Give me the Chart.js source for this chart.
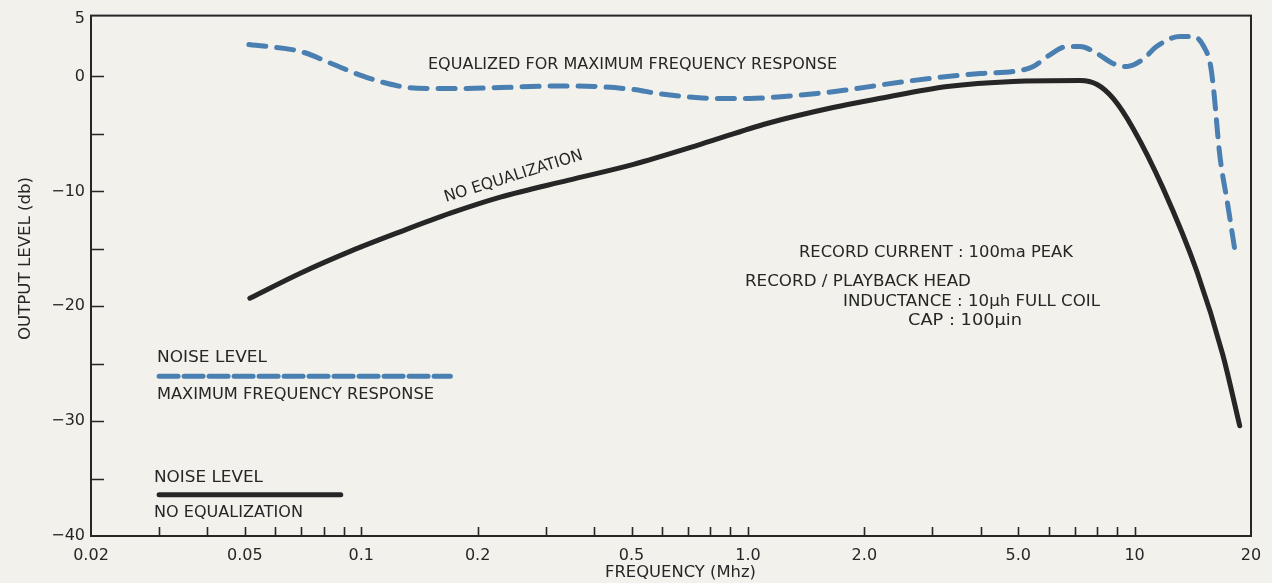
<!DOCTYPE html>
<html>
<head>
<meta charset="utf-8">
<title>Output level vs frequency</title>
<script src="https://cdn.jsdelivr.net/npm/chart.js@4.4.1/dist/chart.umd.min.js"></script>
<style>
  html, body { margin: 0; padding: 0; background: #f2f1ec; }
  #wrap { width: 1272px; height: 583px; }
</style>
</head>
<body>
<div id="wrap"><canvas id="levelChart" width="1272" height="583"></canvas></div>
<script>
// equalized for maximum frequency response (blue dashed)
const eqFreq = [0.0512, 0.0698, 0.0849, 0.1015, 0.117, 0.132, 0.154, 0.188, 0.229, 0.342, 0.506, 0.584,
  0.682, 0.834, 1.01, 1.24, 1.51, 1.84, 2.24, 2.96, 3.99, 4.85, 5.47, 6.05, 6.69, 7.23, 8.0, 8.8, 9.56,
  10.5, 11.4, 13.1, 14.2, 15.2, 15.7, 16.0, 16.6, 17.4, 18.3];
const eqLevel = [2.78, 2.17, 1.04, 0, -0.61, -0.96, -1.04, -1.04, -0.96, -0.82, -1.13, -1.48,
  -1.74, -1.91, -1.91, -1.74, -1.48, -1.13, -0.70, -0.17, 0.26, 0.43, 0.87, 1.91, 2.61, 2.61, 2.0, 1.13, 0.87,
  1.48, 2.61, 3.48, 3.48, 2.43, 1.04, -1.04, -6.78, -11.1, -15.8];

// no equalization (black)
const noEqFreq = [0.0515, 0.0698, 0.0939, 0.1265, 0.170, 0.229, 0.342, 0.506, 0.754, 1.12, 1.66, 2.20,
  3.28, 4.85, 7.23, 8.0, 8.8, 9.91, 11.85, 14.5, 16.9, 18.7];
const noEqLevel = [-19.3, -17.1, -15.2, -13.5, -11.9, -10.5, -9.04, -7.65, -5.91, -4.09, -2.7, -1.9,
  -0.87, -0.43, -0.35, -0.70, -1.91, -4.52, -9.74, -17.0, -24.2, -30.4];

// noise levels
const noiseEqFreq = [0.03, 0.17];
const noiseEqLevel = [-26.1, -26.1];
const noiseNoEqFreq = [0.03, 0.0885];
const noiseNoEqLevel = [-36.4, -36.4];

// axes
const xTickValues = [0.02, 0.05, 0.1, 0.2, 0.5, 1, 2, 5, 10, 20];
const xTickText = ['0.02', '0.05', '0.1', '0.2', '0.5', '1.0', '2.0', '5.0', '10', '20'];
const xTickMarks = [0.03, 0.04, 0.05, 0.06, 0.07, 0.08, 0.09, 0.1, 0.2, 0.3, 0.4, 0.5, 0.6, 0.7, 0.8, 0.9,
  1, 2, 3, 4, 5, 6, 7, 8, 9, 10];
const yTickValues = [5, 0, -10, -20, -30, -40];
const yTickMarks = [0, -5, -10, -15, -20, -25, -30, -35];

const ink = '#262626';
const blue = '#4a7fb2';
const font = '"DejaVu Sans", "Liberation Sans", sans-serif';

const notes = [
  { text: 'EQUALIZED FOR MAXIMUM FREQUENCY RESPONSE', x: 428, y: 65, w: 409 },
  { text: 'NO EQUALIZATION', x: 446, y: 202, w: 144, angle: -17.3, base: 'alphabetic' },
  { text: 'RECORD CURRENT : 100ma PEAK', x: 799, y: 253, w: 274 },
  { text: 'RECORD / PLAYBACK HEAD', x: 745, y: 282, w: 226 },
  { text: 'INDUCTANCE : 10\u03bch FULL COIL', x: 843, y: 302, w: 257 },
  { text: 'CAP : 100\u03bcin', x: 908, y: 321, w: 114 },
  { text: 'NOISE LEVEL', x: 157, y: 358, w: 110 },
  { text: 'MAXIMUM FREQUENCY RESPONSE', x: 157, y: 395, w: 277 },
  { text: 'NOISE LEVEL', x: 154, y: 478, w: 109 },
  { text: 'NO EQUALIZATION', x: 154, y: 513, w: 149 },
  { text: 'FREQUENCY (Mhz)', x: 605, y: 573, w: 151 },
  { text: 'OUTPUT LEVEL (db)', x: 26, y: 340, w: 163, angle: -90, size: 15 }
];

function toPoints(xs, ys) {
  return xs.map((x, i) => ({ x: x, y: ys[i] }));
}

function fitText(ctx, n) {
  ctx.save();
  ctx.font = (n.size || 16) + 'px ' + font;
  ctx.fillStyle = ink;
  ctx.textAlign = 'left';
  ctx.textBaseline = n.base || 'middle';
  const w = ctx.measureText(n.text).width;
  ctx.translate(n.x, n.y);
  if (n.angle) ctx.rotate(n.angle * Math.PI / 180);
  ctx.scale(n.w / w, 1);
  ctx.fillText(n.text, 0, 0);
  ctx.restore();
}

const paperPlugin = {
  id: 'paper',
  beforeDraw(chart) {
    const ctx = chart.ctx;
    ctx.save();
    ctx.fillStyle = '#f2f1ec';
    ctx.fillRect(0, 0, chart.width, chart.height);
    ctx.restore();
  },
  afterDraw(chart) {
    const ctx = chart.ctx;
    const area = chart.chartArea;
    const xs = chart.scales.x;
    const ys = chart.scales.y;
    ctx.save();
    ctx.strokeStyle = ink;
    ctx.lineWidth = 2;
    ctx.strokeRect(area.left, area.top, area.right - area.left, area.bottom - area.top);
    ctx.lineWidth = 1.6;
    ctx.beginPath();
    xTickMarks.forEach(v => {
      const px = Math.round(xs.getPixelForValue(v)) + 0.5;
      ctx.moveTo(px, area.bottom);
      ctx.lineTo(px, area.bottom - 9);
    });
    yTickMarks.forEach(v => {
      const py = Math.round(ys.getPixelForValue(v)) + 0.5;
      ctx.moveTo(area.left, py);
      ctx.lineTo(area.left + 13, py);
    });
    ctx.stroke();
    ctx.restore();
    notes.forEach(n => fitText(ctx, n));
  }
};

const lineStyle = {
  pointRadius: 0,
  borderWidth: 5,
  cubicInterpolationMode: 'monotone',
  borderCapStyle: 'round',
  borderJoinStyle: 'round',
  fill: false
};

new Chart(document.getElementById('levelChart').getContext('2d'), {
  type: 'line',
  data: {
    datasets: [
      Object.assign({ label: 'Equalized', data: toPoints(eqFreq, eqLevel), borderColor: blue, borderDash: [17, 11] }, lineStyle),
      Object.assign({ label: 'No equalization', data: toPoints(noEqFreq, noEqLevel), borderColor: ink }, lineStyle),
      Object.assign({ label: 'Noise (max response)', data: toPoints(noiseEqFreq, noiseEqLevel), borderColor: blue, borderDash: [19, 6] }, lineStyle),
      Object.assign({ label: 'Noise (no equalization)', data: toPoints(noiseNoEqFreq, noiseNoEqLevel), borderColor: ink }, lineStyle)
    ]
  },
  options: {
    responsive: false,
    animation: false,
    layout: { padding: { top: 14, right: 21, left: 0, bottom: 0 } },
    plugins: {
      legend: { display: false },
      tooltip: { enabled: false }
    },
    scales: {
      x: {
        type: 'logarithmic',
        min: 0.02,
        max: 20,
        border: { display: false },
        grid: { display: false, drawTicks: false },
        afterBuildTicks: axis => { axis.ticks = xTickValues.map(v => ({ value: v })); },
        afterFit: axis => { axis.height = 47; },
        ticks: {
          autoSkip: false,
          maxRotation: 0,
          padding: 10,
          color: ink,
          font: { family: font, size: 16 },
          callback: (value, index) => xTickText[index]
        }
      },
      y: {
        min: -40,
        max: 5.3,
        border: { display: false },
        grid: { display: false, drawTicks: false },
        afterBuildTicks: axis => { axis.ticks = yTickValues.map(v => ({ value: v })); },
        afterFit: axis => { axis.width = 91; },
        ticks: {
          autoSkip: false,
          padding: 6,
          color: ink,
          font: { family: font, size: 16 },
          callback: value => String(value).replace('-', '\u2212')
        }
      }
    }
  },
  plugins: [paperPlugin]
});
</script>
</body>
</html>
